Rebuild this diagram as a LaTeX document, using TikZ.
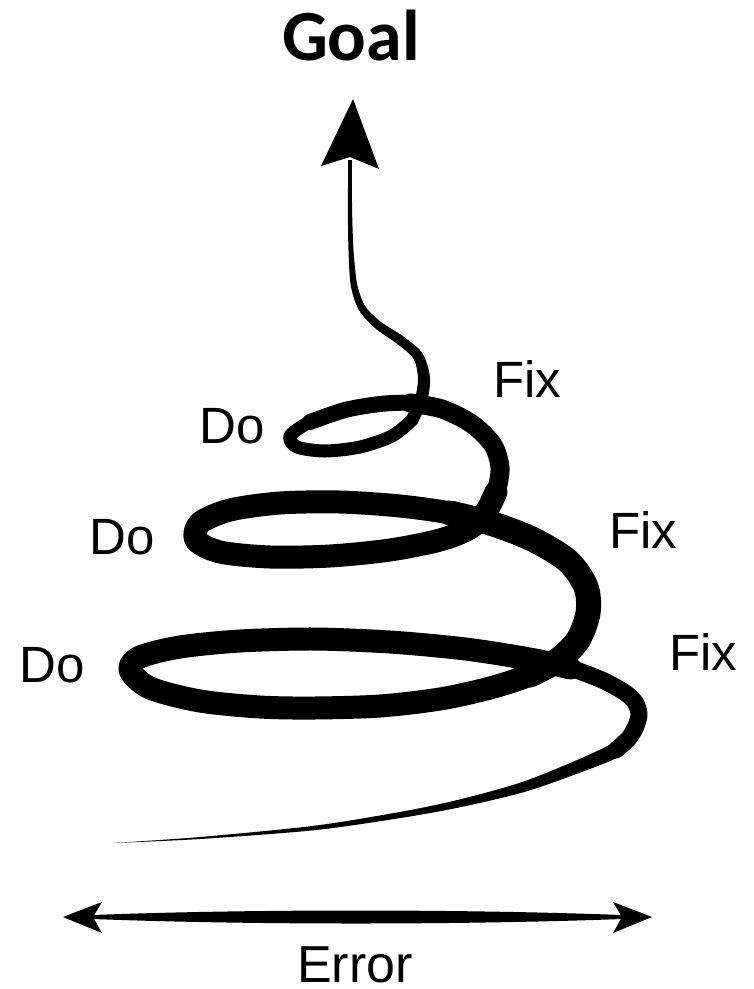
\documentclass[tikz,border=0pt]{standalone}
\usepackage{fontspec}
\setmainfont{Liberation Sans}
\newfontfamily\goalfont{Carlito}
\tikzset{
  stroke/.style={draw=black, line cap=round, line join=round, line width=#1},
  lbl/.style={font=\fontsize{51}{51}\selectfont, anchor=base west, inner sep=0pt},
  ink/.style={fill=black, draw=none},
}
\begin{document}
\begin{tikzpicture}[x=1pt,y=-1pt]
\useasboundingbox (0,0) rectangle (754,989);
% title
\node[font=\goalfont\bfseries\fontsize{72}{72}\selectfont, anchor=base, inner sep=0pt] (goal) at (351,60) {Goal};
% tapered tail of the spiral
\fill[ink] plot[smooth] coordinates {(113,843) (199.9,837.0) (313.7,825.8) (399.5,812.0) (456.2,800.3) (518.5,783.2) (569.7,763.2) (612.4,743.4) (623.3,732.7)}
  -- plot[smooth] coordinates {(636.7,741.3) (619.6,756.6) (574.3,774.8) (521.5,792.8) (457.8,807.7) (400.5,818.0) (314.3,830.2) (200.1,839.0) (113,843)} -- cycle;
% outer arc of the lowest turn
\draw[stroke=17pt] plot[smooth] coordinates {(616,750) (629,738) (636,726) (639,714) (635,702) (624,692) (602,680) (570,668) (540,661)};
% loops
\draw[stroke=23pt] plot[smooth] coordinates {(570,668) (540,661) (500,654) (457,648) (390,642) (314,639) (240,641) (180,647) (140,657) (130,670) (150,688) (200,701) (260,707) (314,708) (380,706) (440,699) (490,688) (530,675) (558,660) (578,640) (588,613)};
\draw[stroke=25pt] plot[smooth] coordinates {(530,675) (558,660) (578,640) (588,613) (586,587) (568,561) (532,539) (490,523) (450,513)};
\draw[stroke=23pt] plot[smooth] coordinates {(532,539) (490,523) (450,513) (400,506) (340,502) (280,503) (230,510) (200,523) (196,540) (220,552) (270,557) (330,556) (390,550) (440,540) (470,528) (486,512) (496,492)};
\draw[stroke=19pt] plot[smooth] coordinates {(440,540) (470,528) (486,512) (496,492) (500,468) (493,445) (472,424) (442,409) (410,403)};
\draw[stroke=16pt] plot[smooth] coordinates {(472,424) (442,409) (410,403) (380,404) (345,410) (310,422)};
\draw[stroke=13pt] plot[smooth] coordinates {(380,404) (345,410) (310,422) (290,436) (297,447) (325,451) (360,447) (392,436) (412,420)};
% tapered shaft towards the goal
\fill[ink] plot[smooth] coordinates {(417.1,424.1) (427.0,401.7) (430.0,377.6) (422.4,353.2) (402.9,336.2) (380.7,321.7) (365.2,306.1) (357.2,284.4) (353.5,249.9) (352.1,210) (351.75,160)}
  -- plot[smooth] coordinates {(348.25,160) (347.9,210) (348.5,250.1) (350.8,285.6) (358.8,309.9) (375.3,328.3) (397.1,343.8) (413.6,358.8) (418.0,378.4) (415.0,398.3) (406.9,415.9)} -- cycle;
% arrow head towards the goal
\coordinate (gtip) at (353,99);
\fill[ink] (gtip) -- (379,169) -- (350,157) -- (321,166) -- cycle;
% labels
\node[lbl] (do1) at (199,443) {Do};
\node[lbl] (do2) at (89,554) {Do};
\node[lbl] (do3) at (19,682) {Do};
\node[lbl] (fix1) at (493,397) {Fix};
\node[lbl] (fix2) at (609,548) {Fix};
\node[lbl] (fix3) at (669,670) {Fix};
% error arrow
\coordinate (eL) at (93,917);
\coordinate (eR) at (622,917);
\fill[ink] (93,915) .. controls (250,909) and (460,909) .. (622,915)
   -- (622,919) .. controls (460,925) and (250,925) .. (93,919) -- cycle;
\fill[ink] (eL) -- (102,902) -- (63,917) -- (102,933) -- cycle;
\fill[ink] (eR) -- (613,902) -- (652,917) -- (613,933) -- cycle;
\node[font=\fontsize{52}{52}\selectfont, anchor=base, inner sep=0pt] (err) at (355,982) {Error};
\end{tikzpicture}
\end{document}
